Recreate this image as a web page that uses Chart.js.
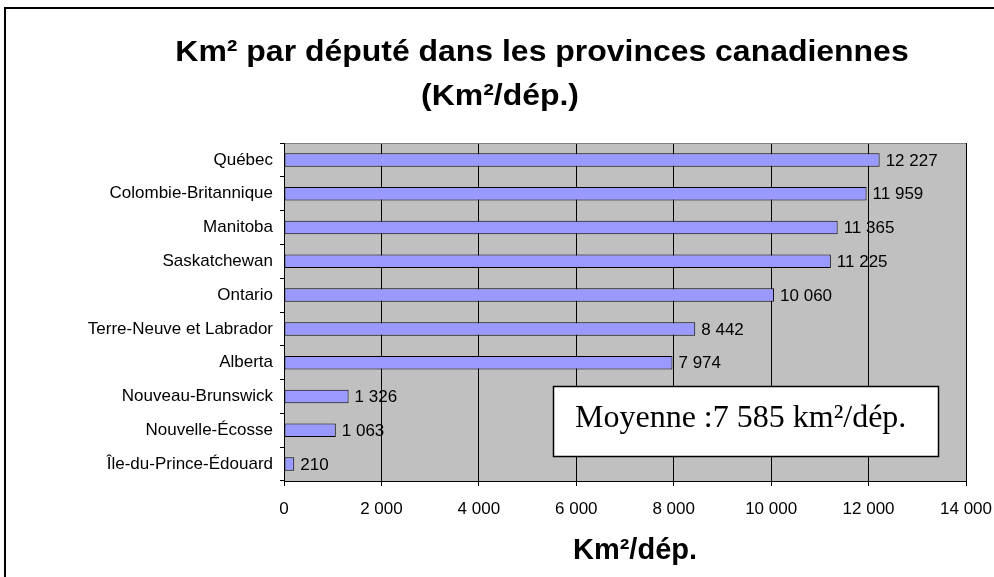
<!DOCTYPE html>
<html>
<head>
<meta charset="utf-8">
<script src="https://cdn.jsdelivr.net/npm/chart.js@4/dist/chart.umd.min.js"></script>
<style>
html,body{margin:0;padding:0;background:#fff;}
canvas{display:block;}
</style>
</head>
<body>
<canvas id="c" width="994" height="577"></canvas>
<script>
const categories = ["Québec","Colombie-Britannique","Manitoba","Saskatchewan","Ontario","Terre-Neuve et Labrador","Alberta","Nouveau-Brunswick","Nouvelle-Écosse","Île-du-Prince-Édouard"];
const values = [12227,11959,11365,11225,10060,8442,7974,1326,1063,210];
const titleLines = ["Km² par député dans les provinces canadiennes","(Km²/dép.)"];
const axisTitle = "Km²/dép.";
const noteText = "Moyenne :7 585 km²/dép.";
const xMin = 0, xMax = 14000, xStep = 2000;

function fmt(v){ return String(v).replace(/\B(?=(\d{3})+(?!\d))/g,' '); }
const SANS = '"Liberation Sans", Arial, sans-serif';
const SERIF = '"Liberation Serif", "Times New Roman", serif';

function stretchText(ctx, text, cx, y, sx){
  ctx.save();
  ctx.translate(cx, y);
  ctx.scale(sx, 1);
  ctx.fillText(text, 0, 0);
  ctx.restore();
}

const decor = {
  id:'decor',
  beforeDraw(chart){
    const a = chart.chartArea, ctx = chart.ctx;
    ctx.save();
    ctx.fillStyle = '#C0C0C0';
    ctx.fillRect(a.left, a.top, a.right-a.left, a.bottom-a.top);
    ctx.restore();
  },
  afterDatasetsDraw(chart){
    const ctx = chart.ctx, a = chart.chartArea;
    const meta = chart.getDatasetMeta(0);
    ctx.save();
    ctx.strokeStyle = '#808080'; ctx.lineWidth = 1;
    ctx.beginPath(); ctx.moveTo(a.left, a.top+0.5); ctx.lineTo(a.right, a.top+0.5); ctx.stroke();
    ctx.strokeStyle = '#000';
    ctx.beginPath(); ctx.moveTo(a.left+0.5, a.top); ctx.lineTo(a.left+0.5, a.bottom); ctx.stroke();
    ctx.beginPath(); ctx.moveTo(a.left, a.bottom+0.5); ctx.lineTo(a.right, a.bottom+0.5); ctx.stroke();
    ctx.fillStyle = '#000';
    ctx.font = '17px ' + SANS;
    ctx.textAlign = 'left'; ctx.textBaseline = 'middle';
    meta.data.forEach((bar,i)=>{
      ctx.fillText(fmt(values[i]), bar.x + 6, bar.y + 1);
    });
    const bx = 553, by = 386, bw = 386, bh = 71;
    ctx.fillStyle = '#fff';
    ctx.fillRect(bx, by, bw, bh);
    ctx.strokeStyle = '#000'; ctx.lineWidth = 1.5;
    ctx.strokeRect(bx+0.5, by+0.5, bw-1, bh-1);
    ctx.fillStyle = '#000';
    ctx.font = '32px ' + SERIF;
    ctx.textBaseline = 'alphabetic'; ctx.textAlign = 'left';
    ctx.fillText(noteText, 575, 427);
    ctx.restore();
  },
  afterDraw(chart){
    const ctx = chart.ctx;
    ctx.save();
    ctx.strokeStyle = '#000'; ctx.lineWidth = 2;
    ctx.beginPath(); ctx.moveTo(5, 577); ctx.lineTo(5, 8); ctx.lineTo(994, 8); ctx.stroke();
    ctx.fillStyle = '#000';
    ctx.font = 'bold 30px ' + SANS;
    ctx.textAlign = 'center'; ctx.textBaseline = 'alphabetic';
    stretchText(ctx, titleLines[0], 542, 61, 1.065);
    stretchText(ctx, titleLines[1], 500, 105, 1.065);
    ctx.font = 'bold 29px ' + SANS;
    stretchText(ctx, axisTitle, 635, 559, 1.0);
    ctx.restore();
  }
};

new Chart(document.getElementById('c'), {
  type:'bar',
  data:{
    labels: categories,
    datasets:[{
      data: values,
      backgroundColor:'#9999FF',
      borderColor:'#000',
      borderWidth:1,
      borderSkipped:false,
      barPercentage:0.4,
      categoryPercentage:1.0
    }]
  },
  options:{
    indexAxis:'y',
    responsive:false,
    animation:false,
    devicePixelRatio:1,
    layout:{padding:{top:143,right:28,bottom:0,left:0}},
    plugins:{legend:{display:false},tooltip:{enabled:false},title:{display:false}},
    scales:{
      x:{
        min:xMin,max:xMax,
        ticks:{stepSize:xStep,callback:(v)=>fmt(v),color:'#000',font:{family:SANS,size:17},padding:13,maxRotation:0},
        grid:{color:'#000',lineWidth:1,tickLength:5,drawTicks:true,tickColor:'#000'},
        border:{display:true,color:'#000'},
        afterFit(s){ s.height = 96; s.paddingLeft = 0; s.paddingRight = 0; }
      },
      y:{
        ticks:{color:'#000',font:{family:SANS,size:17},padding:7},
        grid:{offset:true,drawOnChartArea:false,drawTicks:true,tickLength:4,color:'#000'},
        border:{display:true,color:'#000'},
        afterFit(s){ s.width = 284; s.paddingTop = 0; s.paddingBottom = 0; }
      }
    }
  },
  plugins:[decor]
});
</script>
</body>
</html>
